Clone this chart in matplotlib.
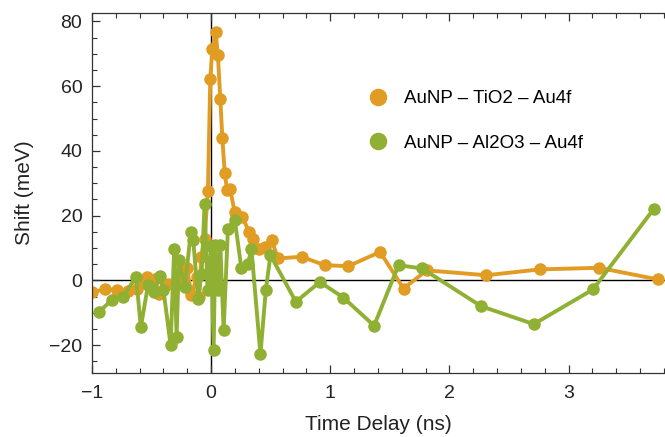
import matplotlib
matplotlib.use("Agg")
import matplotlib.pyplot as plt
from matplotlib.ticker import MultipleLocator

plt.rcParams['font.family'] = ['Liberation Sans', 'DejaVu Sans']

series_names = ["AuNP \u2013 TiO2 \u2013 Au4f", "AuNP \u2013 Al2O3 \u2013 Au4f"]

tio2_t = [-1.0, -0.89, -0.79, -0.70, -0.62, -0.54, -0.47, -0.44, -0.36, -0.30,
          -0.25, -0.20, -0.167, -0.12, -0.10, -0.083, -0.055, -0.027, -0.007, 0.01,
          0.038, 0.057, 0.077, 0.094, 0.114, 0.133, 0.16, 0.198, 0.263, 0.318,
          0.352, 0.402, 0.45, 0.507, 0.563, 0.759, 0.955, 1.152, 1.418, 1.615,
          1.81, 2.31, 2.76, 3.256, 3.75]
tio2_shift = [-3.7, -2.7, -3.0, -3.3, -2.5, 1.1, 0.5, -4.3, -1.0, -1.5,
              0.5, 3.7, -4.6, 1.0, -5.0, 7.3, 12.9, 27.5, 62.3, 71.6,
              76.7, 69.5, 56.1, 44.0, 33.3, 28.0, 28.2, 21.0, 19.6, 15.0,
              12.9, 9.8, 10.3, 12.4, 6.8, 7.3, 4.7, 4.4, 8.8, -2.5,
              3.1, 1.6, 3.4, 3.9, 0.3]

al2o3_t = [-0.94, -0.83, -0.74, -0.63, -0.59, -0.53, -0.48, -0.43, -0.40, -0.34,
           -0.31, -0.29, -0.27, -0.22, -0.17, -0.15, -0.11, -0.08, -0.055, -0.03,
           0.0, 0.021, 0.035, 0.06, 0.077, 0.105, 0.141, 0.198, 0.254, 0.31,
           0.338, 0.414, 0.459, 0.498, 0.711, 0.913, 1.11, 1.368, 1.573, 1.77,
           2.268, 2.709, 3.205, 3.714]
al2o3_shift = [-9.7, -5.9, -5.1, 1.1, -14.4, -1.5, -3.5, 1.3, -3.0, -20.0,
               9.8, -17.4, 6.2, -2.0, 15.0, 12.4, -5.6, 2.0, 23.5, -3.0,
               10.5, -21.5, 10.9, -3.0, 10.9, -15.4, 16.0, 18.8, 3.7, 5.2,
               9.8, -22.8, -3.0, 7.8, -6.6, -0.5, -5.3, -14.0, 4.7, 3.7,
               -8.0, -13.5, -2.8, 22.0]

orange = '#E19C24'
green = '#8FB032'

fig = plt.figure(figsize=(6.65, 4.37), dpi=100)
ax = fig.add_axes([92/665, 1-373/437, 1-92/665, (373-13)/437])

ax.axhline(0, color='black', lw=1.0, zorder=1)
ax.axvline(0, color='black', lw=1.0, zorder=1)

ax.plot(tio2_t, tio2_shift, '-o', color=orange, lw=2.8, ms=8, mec=orange,
        label=series_names[0], zorder=2)
ax.plot(al2o3_t, al2o3_shift, '-o', color=green, lw=2.8, ms=8, mec=green,
        label=series_names[1], zorder=3)

ax.set_xlim(-1.0, 3.81)
ax.set_ylim(-28.6, 82.6)

ax.xaxis.set_major_locator(MultipleLocator(1))
ax.xaxis.set_minor_locator(MultipleLocator(0.2))
ax.yaxis.set_major_locator(MultipleLocator(20))
ax.yaxis.set_minor_locator(MultipleLocator(5))

ax.tick_params(which='both', direction='in', top=True, right=False,
               color='#333333', labelsize=14, labelcolor='#222222')
ax.tick_params(which='major', length=6, width=0.9)
ax.tick_params(which='minor', length=3.5, width=0.8)
ax.tick_params(axis='x', pad=9)
ax.tick_params(axis='y', pad=7)
ax.spines['right'].set_visible(False)
for s in ['left', 'bottom', 'top']:
    ax.spines[s].set_color('#333333')
    ax.spines[s].set_linewidth(0.9)

ax.set_xlabel('Time Delay (ns)', fontsize=15, color='#222222', labelpad=9)
ax.set_ylabel('Shift (meV)', fontsize=15, color='#222222', labelpad=11)

leg = ax.legend(loc='center left', bbox_to_anchor=(0.457, 0.700), frameon=False,
                fontsize=13.5, handlelength=0.8, handletextpad=0.96,
                labelspacing=1.45, markerscale=1.45, borderpad=0.4)
for h in leg.legend_handles:
    h.set_linestyle('none')

fig.savefig('out.png', dpi=100)
